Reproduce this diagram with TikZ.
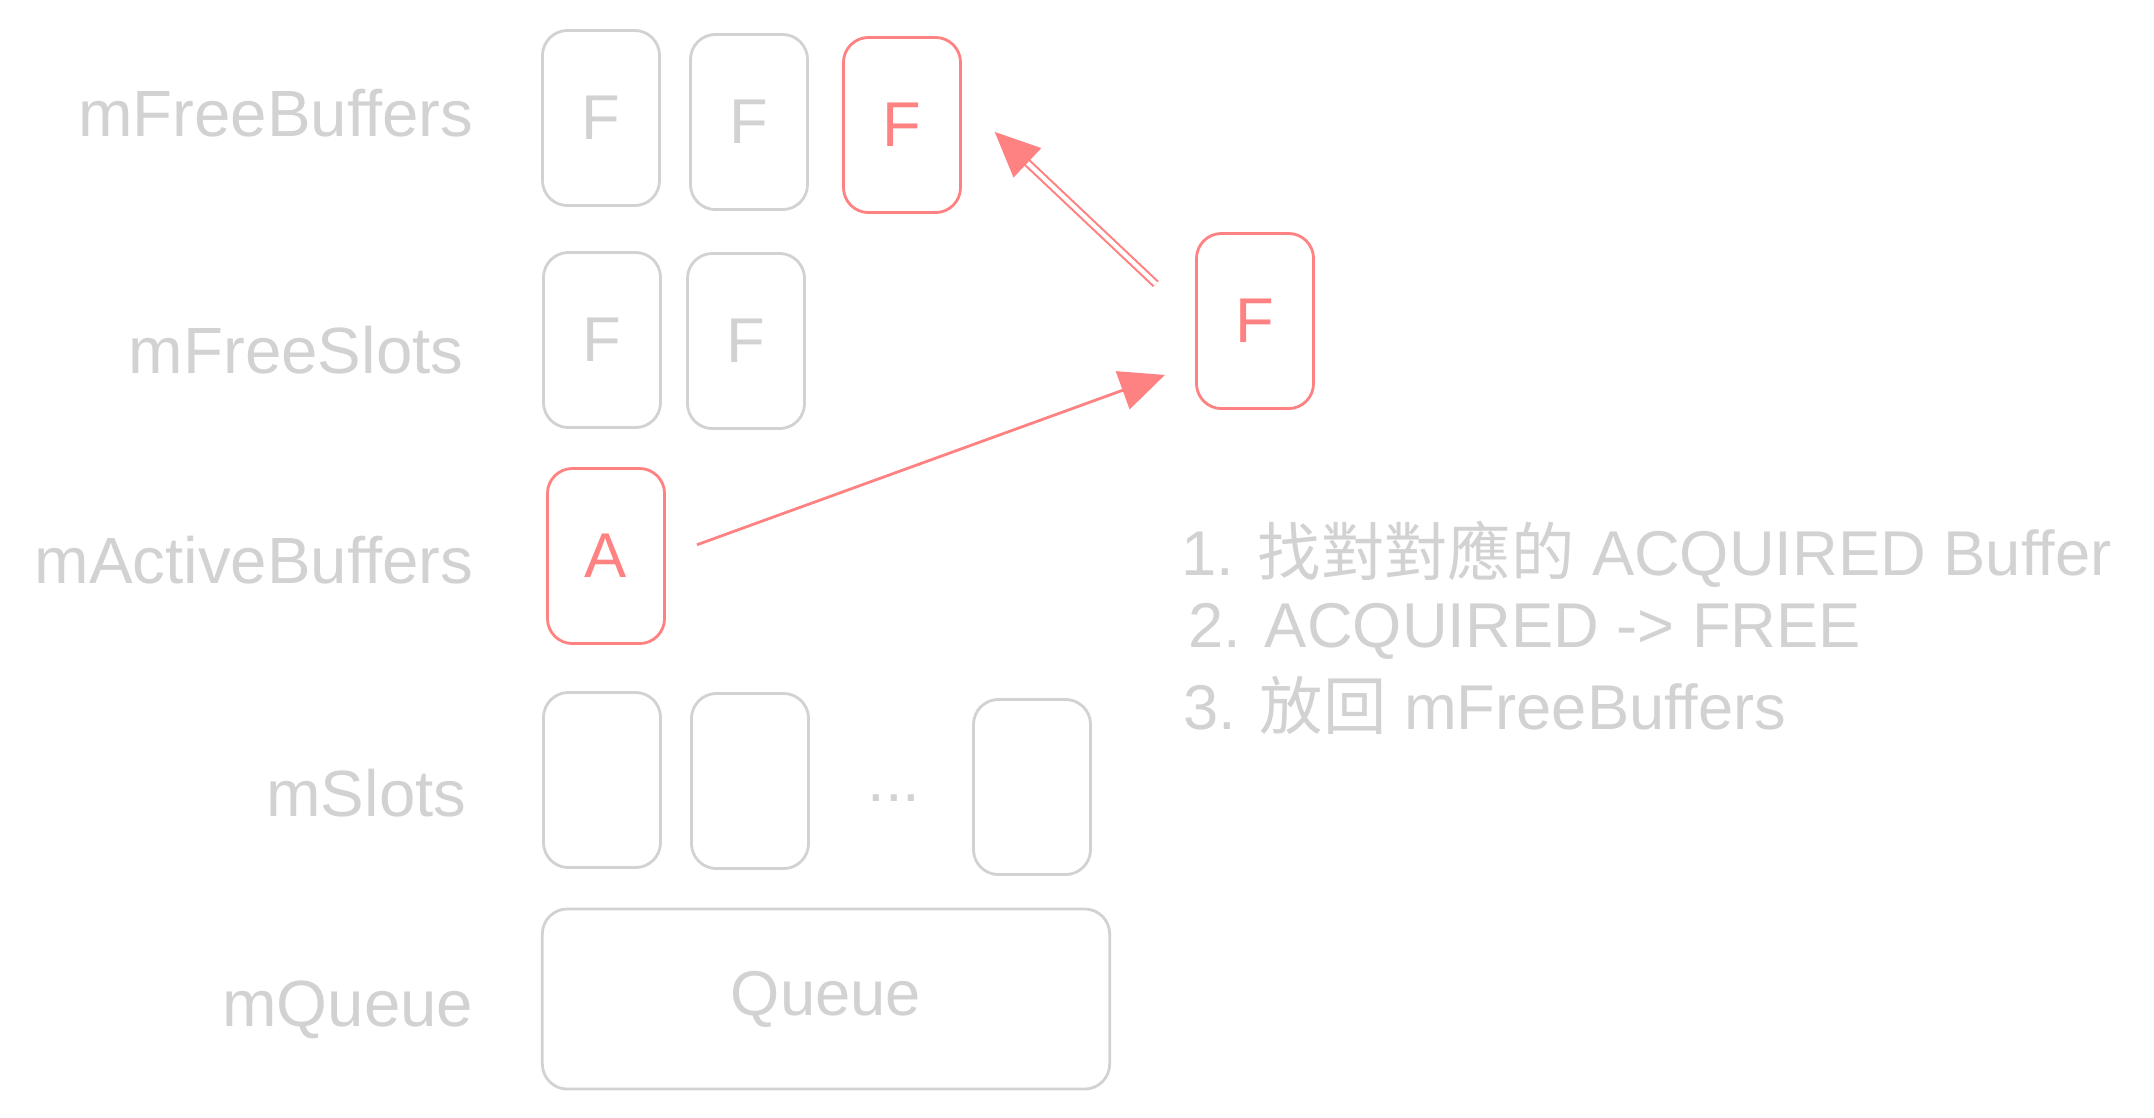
\documentclass[tikz,border=0pt]{standalone}
\usepackage{fontspec}
\setmainfont{Liberation Sans}
\newfontfamily\cjk{Noto Sans CJK TC}
\usepackage{tikz}
\usetikzlibrary{arrows.meta,calc}
\definecolor{sketchgray}{HTML}{D2D2D2}
\definecolor{sketchred}{HTML}{FF8282}

\begin{document}
\begin{tikzpicture}[x=0.01cm, y=-0.01cm,
		txt/.style={text=sketchgray, font=\fontsize{18pt}{22pt}\selectfont},
		buf/.style={draw=sketchgray, line width=0.8pt, rounded corners=0.25cm, minimum width=1.17cm, minimum height=1.75cm, inner sep=0pt, txt},
		hot/.style={buf, draw=sketchred, text=sketchred},
		lbl/.style={txt, font=\fontsize{18.6pt}{22pt}\selectfont, anchor=east, inner sep=0pt},
		stepline/.style={txt, anchor=west, inner sep=0pt},
		redarrow/.style={draw=sketchred, line width=0.8pt, -{Triangle[length=0.45cm,width=0.4cm]}}]
		\useasboundingbox (0, 0) rectangle (2154, 1117);

		\node[lbl] (fbl) at (474, 113) {mFreeBuffers};
		\node[lbl] (fsl) at (464, 350) {mFreeSlots};
		\node[lbl] (abl) at (474, 560) {mActiveBuffers};
		\node[lbl] (sll) at (467, 793) {mSlots};
		\node[lbl] (ql) at (474, 1010) {mQueue};

		\node[buf] (fb1) at (601, 118) {F};
		\node[buf] (fb2) at (749, 122) {F};
		\node[hot] (fb3) at (902, 125) {F};

		\node[buf] (fs1) at (602, 340) {F};
		\node[buf] (fs2) at (746, 341) {F};

		\node[hot] (ab) at (606, 556) {A};

		\node[buf] (sl1) at (602, 780) {};
		\node[buf] (sl2) at (750, 781) {};
		\node[txt] (dots) at (894, 798) {...};
		\node[buf] (sl3) at (1032, 787) {};

		\node[buf, minimum width=5.67cm, minimum height=1.8cm] (q) at (826, 999) {\raisebox{-0.1cm}{Queue}};

		\node[hot] (lf) at (1255, 321) {F};

		\draw[redarrow, shorten <=0.33cm, shorten >=0.32cm] (ab.east) -- ($(lf.west)+(0, 43)$);
		\draw[redarrow, double=white, double distance=1.2pt, line width=0.6pt, shorten <=0.54cm, shorten >=0.45cm] (lf.west) -- ($(fb3.east)+(0, -24)$);

		\node[stepline] (s1) at (1181, 554) {1. {\cjk 找對對應的}\ ACQUIRED\ Buffer};
		\node[stepline] (s2) at (1188, 631) {2. ACQUIRED\ -> FREE};
		\node[stepline] (s3) at (1183, 705) {3. {\cjk 放回}\ mFreeBuffers};
\end{tikzpicture}
\end{document}
